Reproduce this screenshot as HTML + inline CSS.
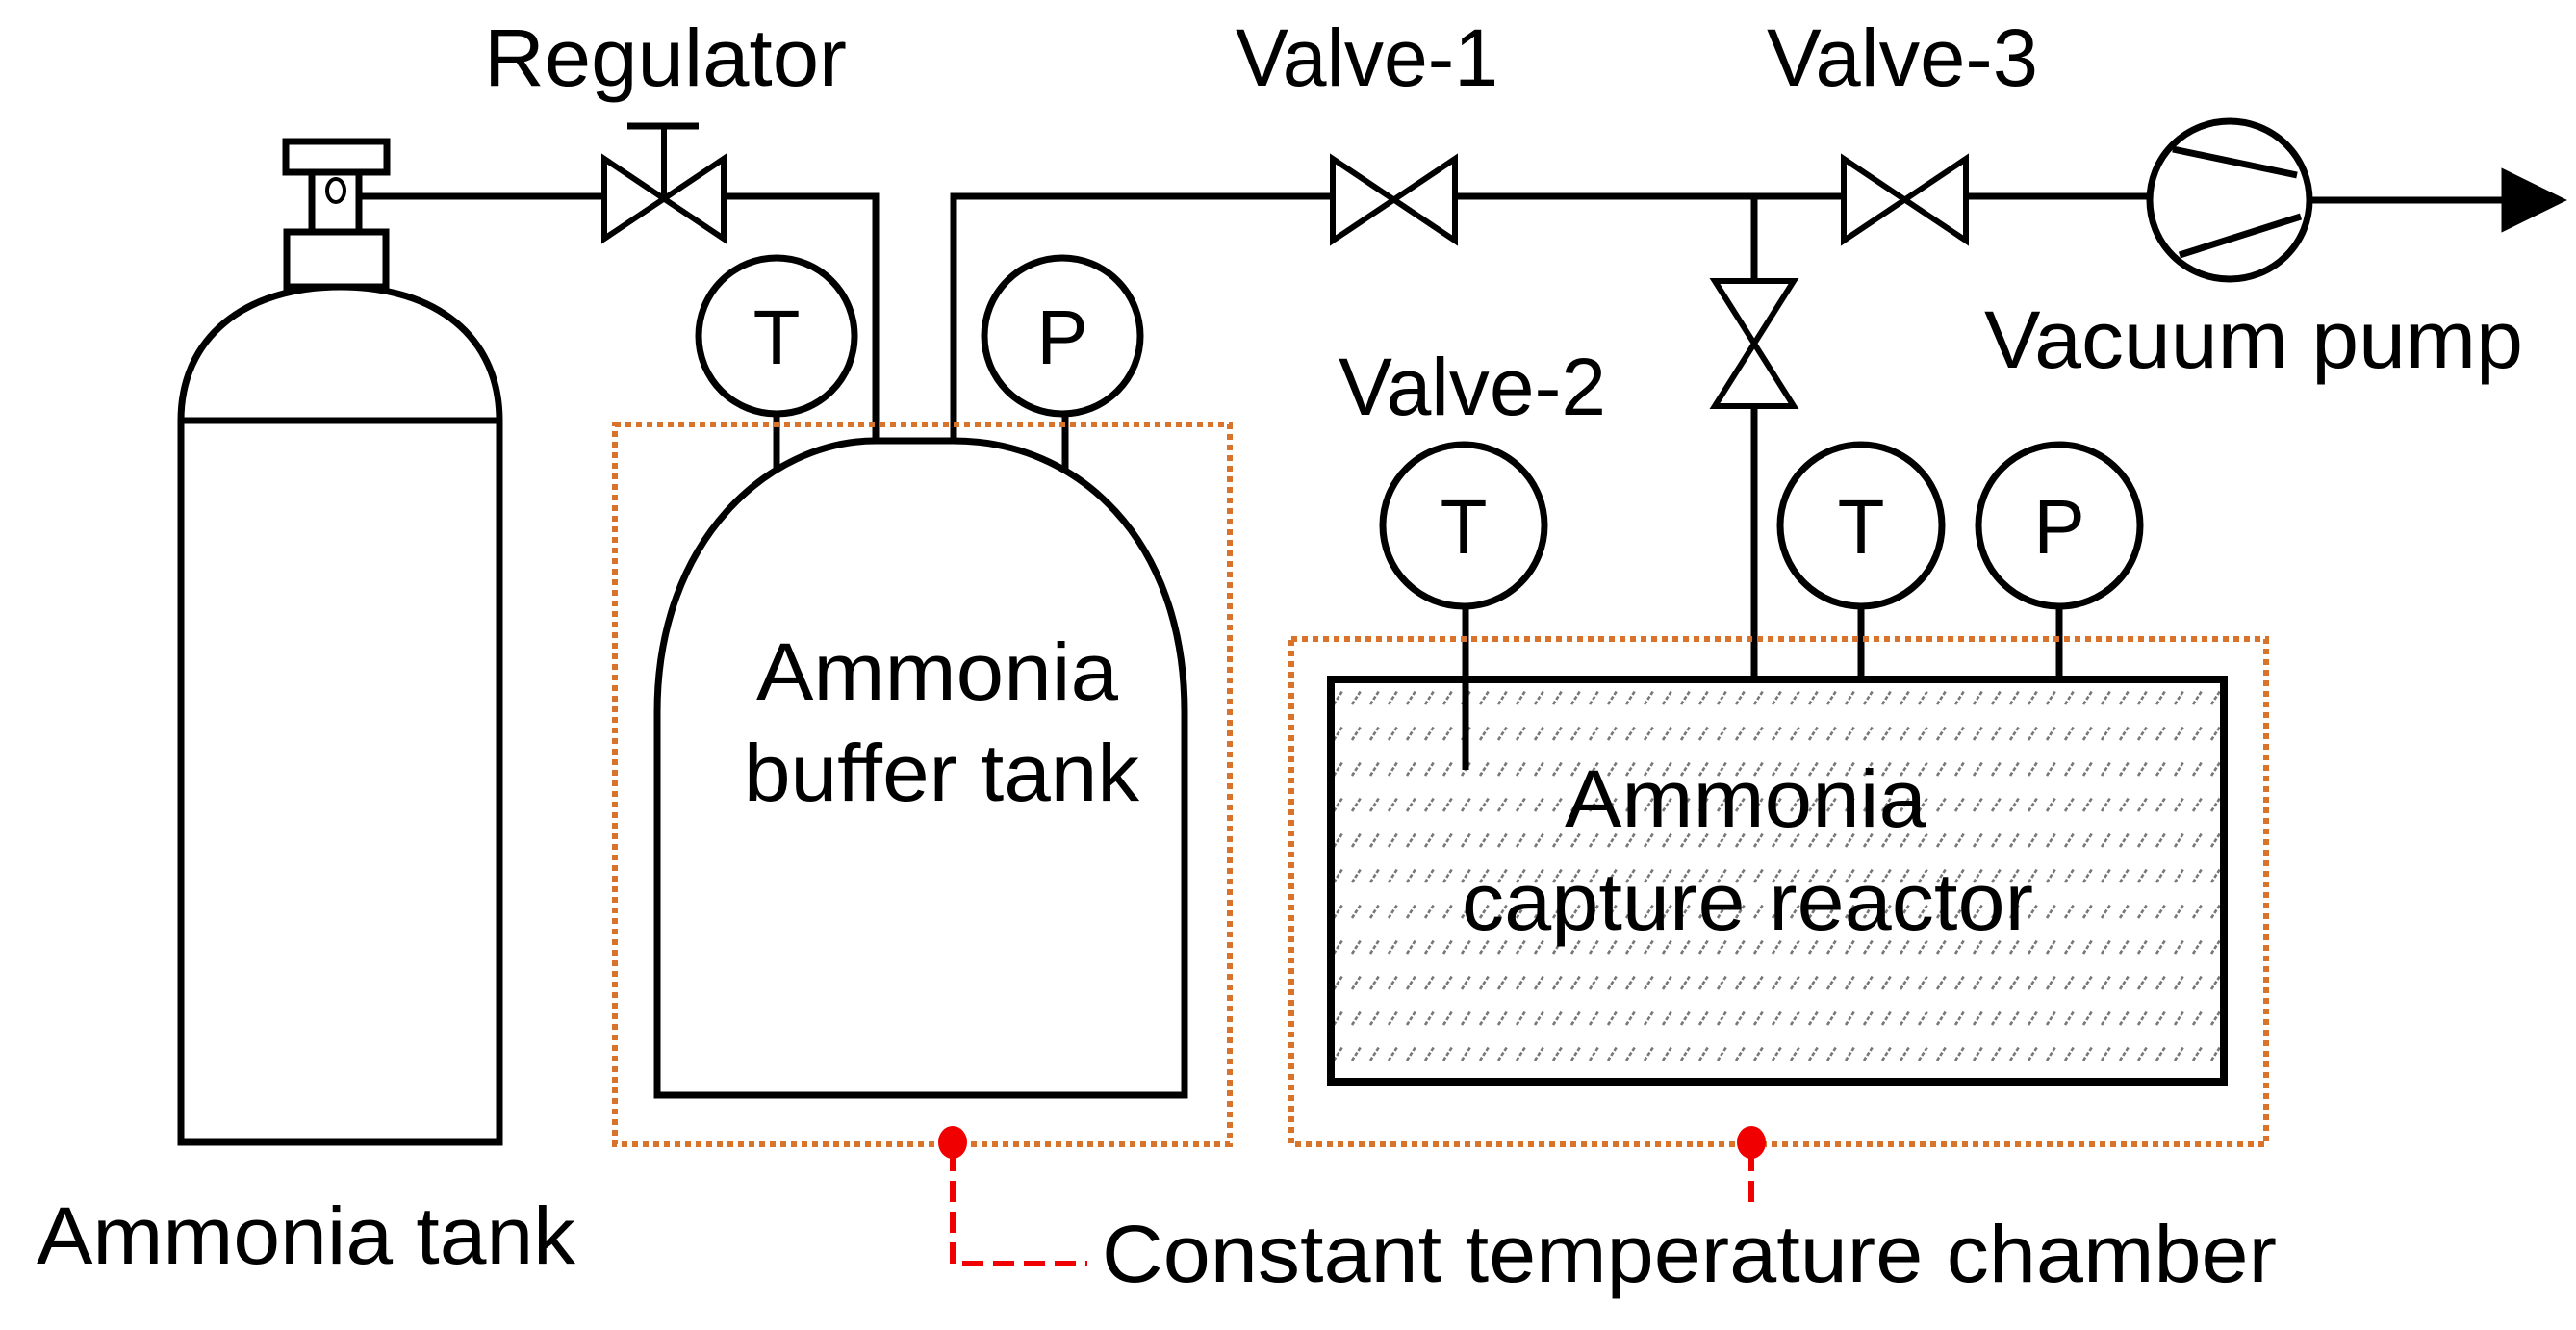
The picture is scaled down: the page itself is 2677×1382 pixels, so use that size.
<!DOCTYPE html>
<html><head><meta charset="utf-8"><style>html,body{margin:0;padding:0;background:#fff}svg{display:block}</style></head>
<body>
<svg width="2677" height="1382" viewBox="0 0 2677 1382" xmlns="http://www.w3.org/2000/svg" font-family="Liberation Sans, Arial, sans-serif">
<defs>
<pattern id="h" x="1383" y="712" width="19" height="37" patternUnits="userSpaceOnUse">
<line x1="3" y1="20" x2="12" y2="6" stroke="#777" stroke-width="2.6" stroke-dasharray="4 2"/>
</pattern>
</defs>
<g fill="none" stroke="#000" stroke-width="7">
<path d="M188,1187 V437 C188,350 255,298 354,298 C453,298 519,350 519,437 V1187 Z" fill="#fff"/>
<line x1="188" y1="437" x2="519" y2="437"/>
<rect x="298" y="241" width="103" height="57" fill="#fff"/>
<rect x="324" y="179" width="49" height="62" fill="#fff"/>
<rect x="297" y="147" width="105" height="32" fill="#fff"/>
<ellipse cx="349" cy="198" rx="9" ry="12" stroke-width="4"/>
<line x1="373" y1="204" x2="628" y2="204"/>
<path d="M628,165 V248 L752,165 V248 Z" fill="#fff" stroke-width="6"/>
<line x1="690" y1="206" x2="690" y2="132" stroke-width="6"/>
<line x1="652" y1="131" x2="726" y2="131"/>
<path d="M752,204 H910 V460"/>
<path d="M991,460 V204 H1385"/>
<circle cx="807" cy="349" r="81"/>
<circle cx="1104" cy="349" r="81"/>
<line x1="807" y1="430" x2="807" y2="490"/>
<line x1="1107" y1="430" x2="1107" y2="488"/>
<path d="M683,1138 V740 C683,560 800,458 910,458 H991 C1120,458 1231,560 1231,740 V1138 Z"/>
<path d="M1385,165 V250 L1512,165 V250 Z" fill="#fff" stroke-width="6"/>
<line x1="1512" y1="204" x2="1916" y2="204"/>
<path d="M1916,165 V250 L2043,165 V250 Z" fill="#fff" stroke-width="6"/>
<line x1="2043" y1="204" x2="2235" y2="204"/>
<ellipse cx="2317" cy="208" rx="83" ry="82"/>
<line x1="2258" y1="155" x2="2387" y2="182"/>
<line x1="2265" y1="265" x2="2391" y2="225"/>
<line x1="2400" y1="208" x2="2605" y2="208"/>
<polygon points="2603,180 2660,208 2603,236" fill="#000"/>
<line x1="1823" y1="204" x2="1823" y2="292"/>
<path d="M1782,292 H1864 L1782,422 H1864 Z" fill="#fff" stroke-width="6"/>
<line x1="1823" y1="422" x2="1823" y2="706"/>
<circle cx="1521" cy="546" r="84"/>
<circle cx="1934" cy="546" r="84"/>
<circle cx="2140" cy="546" r="84"/>
<line x1="1934" y1="630" x2="1934" y2="706"/>
<line x1="2140" y1="630" x2="2140" y2="706"/>
<rect x="1383" y="706" width="928" height="418" fill="url(#h)" stroke-width="8"/>
<line x1="1523" y1="630" x2="1523" y2="800"/>
</g>
<g fill="none" stroke="#d9732b" stroke-width="6" stroke-dasharray="6 5">
<rect x="639" y="441" width="639" height="748"/>
<rect x="1342" y="664" width="1013" height="525"/>
</g>
<g fill="#f00000" stroke="none">
<ellipse cx="990" cy="1187" rx="15" ry="17"/>
<ellipse cx="1820" cy="1187" rx="15" ry="17"/>
</g>
<g fill="none" stroke="#f00000" stroke-width="6" stroke-dasharray="22 10">
<path d="M990,1195 V1313 H1130"/>
<line x1="1820" y1="1195" x2="1820" y2="1258"/>
</g>
<g fill="#000" font-size="84">
<text x="503" y="89" textLength="377" lengthAdjust="spacingAndGlyphs">Regulator</text>
<text x="1284" y="89" textLength="273" lengthAdjust="spacingAndGlyphs">Valve-1</text>
<text x="1836" y="89" textLength="282" lengthAdjust="spacingAndGlyphs">Valve-3</text>
<text x="2062" y="382" textLength="560" lengthAdjust="spacingAndGlyphs">Vacuum pump</text>
<text x="1391" y="431" textLength="278" lengthAdjust="spacingAndGlyphs">Valve-2</text>
<text x="786" y="727" textLength="376" lengthAdjust="spacingAndGlyphs">Ammonia</text>
<text x="773" y="832" textLength="411" lengthAdjust="spacingAndGlyphs">buffer tank</text>
<text x="1626" y="859" textLength="376" lengthAdjust="spacingAndGlyphs">Ammonia</text>
<text x="1519" y="966" textLength="594" lengthAdjust="spacingAndGlyphs">capture reactor</text>
<text x="38" y="1313" textLength="560" lengthAdjust="spacingAndGlyphs">Ammonia tank</text>
<text x="1145" y="1332" textLength="1221" lengthAdjust="spacingAndGlyphs">Constant temperature chamber</text>
<text x="807" y="378" font-size="80" text-anchor="middle">T</text>
<text x="1104" y="378" font-size="80" text-anchor="middle">P</text>
<text x="1521" y="575" font-size="80" text-anchor="middle">T</text>
<text x="1934" y="575" font-size="80" text-anchor="middle">T</text>
<text x="2140" y="575" font-size="80" text-anchor="middle">P</text>
</g>
</svg>
</body></html>
